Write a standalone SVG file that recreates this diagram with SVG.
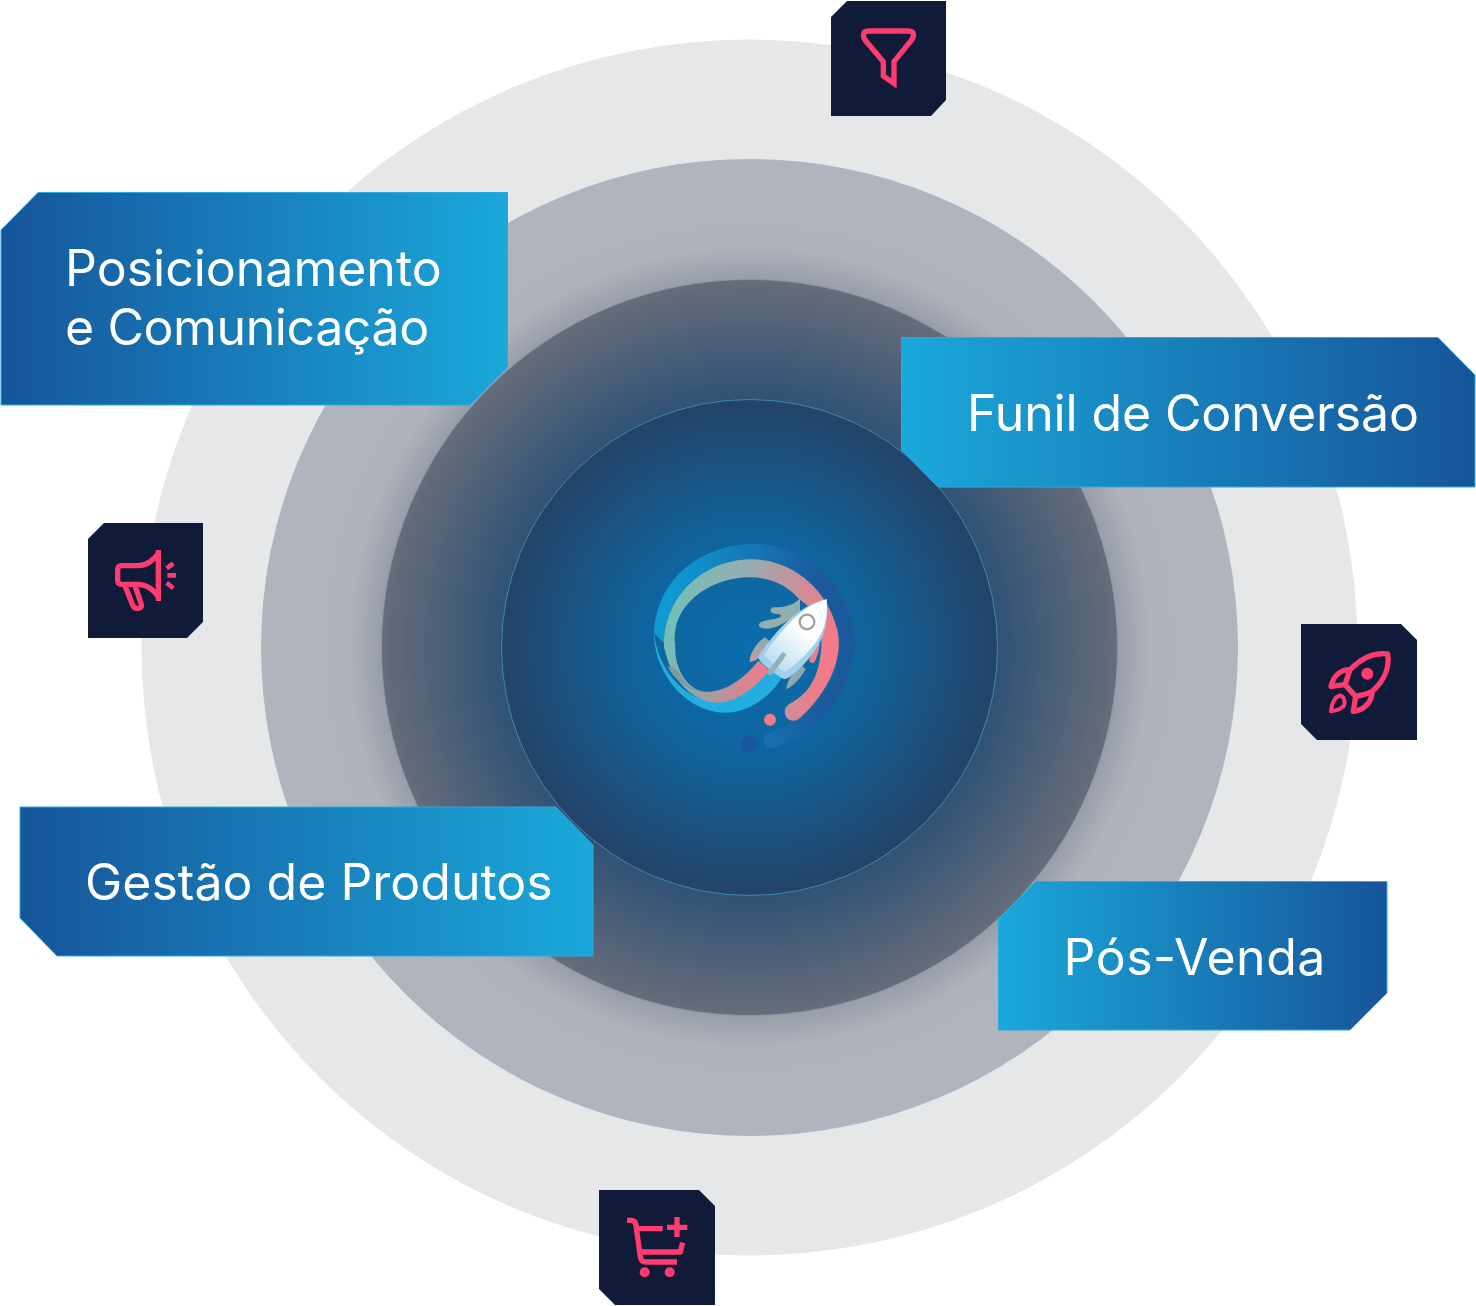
<svg xmlns="http://www.w3.org/2000/svg" width="1476" height="1306" viewBox="0 0 1476 1306">
<defs>
<radialGradient id="gInner" gradientUnits="userSpaceOnUse" cx="749.5" cy="647.5" r="248"><stop offset="0" stop-color="#0b6dab"/><stop offset=".45" stop-color="#0f649d"/><stop offset="1" stop-color="#244368"/></radialGradient>
<radialGradient id="gThird" gradientUnits="userSpaceOnUse" cx="749.5" cy="647.5" r="368"><stop offset=".67" stop-color="#2f5275"/><stop offset="1" stop-color="#666c7a"/></radialGradient>
<radialGradient id="gSecond" gradientUnits="userSpaceOnUse" cx="749.5" cy="647.5" r="488"><stop offset=".75" stop-color="#979ca8"/><stop offset=".82" stop-color="#afb2bb"/><stop offset="1" stop-color="#b1b4bd"/></radialGradient>
<linearGradient id="gL" x1="0" x2="1" y1="0" y2="0"><stop offset="0" stop-color="#16559a"/><stop offset="1" stop-color="#1aa8da"/></linearGradient>
<linearGradient id="gR" x1="0" x2="1" y1="0" y2="0"><stop offset="0" stop-color="#1aa8da"/><stop offset="1" stop-color="#16559a"/></linearGradient>
<linearGradient id="gRing" gradientUnits="userSpaceOnUse" x1="120" x2="570" y1="200" y2="200"><stop offset="0" stop-color="#0e9ad2"/><stop offset="1" stop-color="#1a5a9c"/></linearGradient>
<linearGradient id="gBand" gradientUnits="userSpaceOnUse" x1="150" x2="610" y1="200" y2="260"><stop offset="0" stop-color="#76bdb8"/><stop offset=".45" stop-color="#9aabaf"/><stop offset="1" stop-color="#f37a88"/></linearGradient>
<linearGradient id="gLow" gradientUnits="userSpaceOnUse" x1="110" x2="410" y1="350" y2="450"><stop offset="0" stop-color="#76bdb8"/><stop offset=".4" stop-color="#8fa5a8"/><stop offset="1" stop-color="#f37a88"/></linearGradient>
<linearGradient id="gFin" gradientUnits="userSpaceOnUse" x1="420" x2="370" y1="330" y2="400"><stop offset="0" stop-color="#84b0b2"/><stop offset="1" stop-color="#c79a9f"/></linearGradient>
<linearGradient id="gBody" gradientUnits="userSpaceOnUse" x1="560" x2="425" y1="250" y2="420"><stop offset=".3" stop-color="#ffffff"/><stop offset="1" stop-color="#b3daf0"/></linearGradient>
<style>
.lbl{font-family:"Inter","Liberation Sans",sans-serif;font-size:50px;font-weight:400;fill:#fff}
.box{stroke:#2aaade;stroke-width:1}
.tile{fill:#101b3a}
.ic{fill:none;stroke:#ff3b6f;stroke-width:16;stroke-linejoin:round}
.icf{fill:#ff3b6f}
</style>
</defs>
<g id="rings">
<circle cx="749.5" cy="647.5" r="608" fill="#e5e7e9"/>
<circle cx="749.5" cy="647.5" r="488" fill="url(#gSecond)" stroke="#9fb4c2" stroke-width=".8"/>
<circle cx="749.5" cy="647.5" r="368" fill="url(#gThird)" stroke="#7f9cb0" stroke-width=".8"/>
<circle cx="749.5" cy="647.5" r="248" fill="url(#gInner)" stroke="#3f8aa8" stroke-width="1"/>
</g>
<g id="logo" transform="translate(630 530) scale(.33333)">
<path fill="url(#gRing)" d="M72 310C78 150 210 42 373 42C540 42 675 175 675 342C675 480 570 610 440 652C415 660 400 645 402 628C405 610 420 605 435 600C545 565 630 460 630 345C630 200 500 90 370 90C230 90 105 190 102 340Z"/>
<path fill="#22aee0" d="M72 310C72 430 170 548 285 548C350 548 420 505 457 440L415 415C370 480 300 518 240 515C160 500 85 420 72 310Z"/>
<path fill="url(#gBand)" d="M102 345C102 200 220 88 365 88C480 88 590 170 622 300C645 400 575 510 505 568C480 582 458 560 466 535C470 525 480 520 490 515C530 490 568 450 574 350L574 260L505 205C470 165 420 142 360 142C250 142 150 210 136 300C133 320 133 340 136 360L104 360Z"/>
<path fill="url(#gLow)" d="M102 340C110 430 180 518 260 518C320 518 380 470 418 420L385 392C340 450 280 488 225 485C170 480 130 410 136 340Z"/>
<path fill="#7f9a9e" d="M112 408C130 445 165 478 215 486C178 476 158 450 142 420Z"/>
<path fill="#92aeae" d="M510 205C490 228 460 232 432 232C418 232 418 250 434 251C450 252 458 254 450 262C430 270 400 270 390 278C380 288 392 296 410 296C440 296 470 275 510 250Z"/>
<path fill="none" stroke="#e8808c" stroke-width="18" stroke-linecap="round" d="M560 345C558 365 554 375 547 390"/>
<path fill="url(#gFin)" d="M358 395C360 370 380 335 405 322L426 340L385 385C375 392 365 397 358 395Z"/>
<path fill="#90a9ac" d="M468 478C472 450 495 415 510 400L527 418C515 440 490 470 468 478Z"/>
<path fill="#9fd0ee" d="M590 208C515 222 445 290 386 378C384 390 395 398 402 405C420 420 445 440 462 447C472 448 480 440 490 432C530 400 570 350 584 300C592 270 594 235 590 208Z"/>
<path fill="url(#gBody)" d="M590 208C520 225 455 295 402 376C420 395 440 412 465 427C520 385 565 340 582 290C590 265 592 235 590 208Z"/>
<path fill="none" stroke="#92b0b5" stroke-width="15" stroke-linecap="round" d="M460 375L420 428"/>
<circle cx="531" cy="276" r="22" fill="#fff" stroke="#a0a2aa" stroke-width="7"/>
<circle cx="420" cy="569" r="18" fill="#f37a88"/>
<circle cx="359" cy="642" r="26" fill="#1c559b"/>
</g>
<g id="node-posicionamento">
<path class="box" fill="url(#gL)" d="M38 192.500H507.500V367L470 405H1V230Z"/>
<text class="lbl" x="65" y="285.500">Posicionamento</text>
<text class="lbl" x="65" y="344.500" letter-spacing="-.4">e Comunicação</text>
</g>
<g id="node-funil">
<path class="box" fill="url(#gR)" d="M901.500 337.500H1438L1475 375V487H938L901.500 450Z"/>
<text class="lbl" x="967" y="430.500" letter-spacing="-.12">Funil de Conversão</text>
</g>
<g id="node-gestao">
<path class="box" fill="url(#gL)" d="M20 807H556L593 845V956H57L20 918Z"/>
<text class="lbl" x="85" y="899.500">Gestão de Produtos</text>
</g>
<g id="node-posvenda">
<path class="box" fill="url(#gR)" d="M1036 881.500H1387V993L1350 1030H998.500V919Z"/>
<text class="lbl" x="1063.500" y="974.500" letter-spacing=".5">Pós-Venda</text>
</g>
<g id="icon-funil">
<path class="tile" d="M847 1H946V100L931 116H831V17Z"/>
<g transform="translate(820 0) scale(.33333)"><path class="ic" style="stroke-linejoin:miter" d="M145 93H265Q290 95 275 120L222 185V250L190 228V185L135 120Q122 95 145 93Z"/></g>
</g>
<g id="icon-megafone">
<path class="tile" d="M104 523H203V622L187 638H88V539Z"/>
<g transform="translate(80 515) scale(.33333)">
<path class="ic" d="M235 105V258M235 115C220 135 205 150 175 152H125Q113 152 113 165V195Q113 208 125 208H175C205 210 220 225 235 245M135 212L158 270Q162 282 175 280Q188 278 183 265L165 212"/>
<path class="ic" style="stroke-width:14" d="M260 160L280 145M262 181H288M260 203L280 220"/>
</g>
</g>
<g id="icon-foguete">
<path class="tile" d="M1301 624H1401L1417 640V740H1317L1301 724Z"/>
<g transform="translate(1295 618) scale(.33333)">
<path class="ic" d="M278 108C235 102 195 125 165 155C135 155 115 175 108 205L150 200L182 235L175 280C205 278 230 255 232 220C265 190 285 150 278 108ZM150 200C155 185 160 170 165 155M182 235C198 232 215 228 232 220"/>
<circle class="icf" cx="217" cy="167" r="18"/>
<path class="ic" style="stroke-width:12" d="M108 280C110 255 120 237 135 232C150 237 152 255 145 265C135 275 120 278 108 280Z"/>
</g>
</g>
<g id="icon-carrinho">
<path class="tile" d="M599 1190H699L715 1206V1305H615L599 1289Z"/>
<g transform="translate(592 1182) scale(.33333)">
<path class="ic" d="M105 115H118Q130 115 132 130L145 225Q147 240 160 240H255M135 140H212M145 210H265L272 182M255 105V165M225 136H286"/>
<circle class="icf" cx="158" cy="271" r="15"/>
<circle class="icf" cx="233" cy="271" r="15"/>
</g>
</g>
</svg>
